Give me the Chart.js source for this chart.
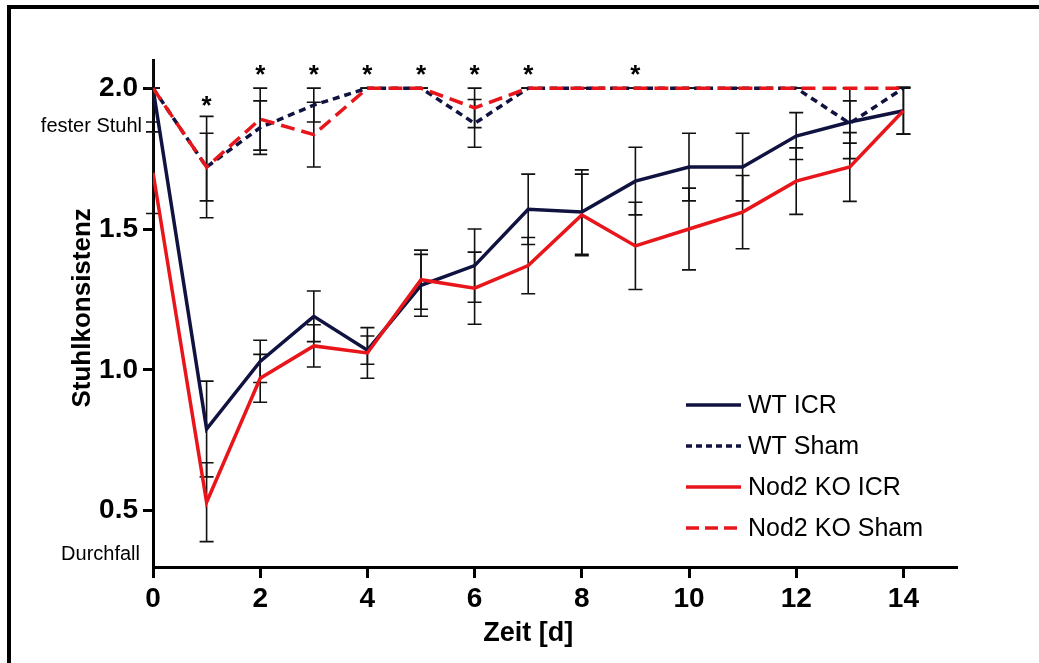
<!DOCTYPE html>
<html><head><meta charset="utf-8">
<script src="https://cdn.jsdelivr.net/npm/chart.js@4.4.1/dist/chart.umd.min.js"></script>
<style>
html,body{margin:0;padding:0;background:#fff;overflow:hidden;}
canvas{display:block;}
</style></head><body>
<canvas id="c" width="1039" height="663"></canvas>
<script>
// ---- data ----
const days = [0,1,2,3,4,5,6,7,8,9,10,11,12,13,14];
const wtIcr     = [2.00,0.79,1.03,1.19,1.07,1.30,1.37,1.57,1.56,1.67,1.72,1.72,1.83,1.88,1.92];
const wtIcrErr  = [0.12,0.17,0.075,0.09,0.05,0.11,0.13,0.125,0.15,0.12,0.12,0.12,0.083,0.075,0.083];
const wtSham    = [2.00,1.72,1.86,1.94,2.00,2.00,1.875,2.00,2.00,2.00,2.00,2.00,2.00,1.875,2.00];
const wtShamErr = [0,0.12,0.095,0.06,0,0,0.085,0,0,0,0,0,0,0.125,0];
const koIcr     = [1.70,0.53,0.97,1.085,1.06,1.32,1.29,1.37,1.55,1.44,1.50,1.56,1.67,1.72,1.92];
const koIcrErr  = [0.145,0.14,0.085,0.075,0.09,0.105,0.128,0.10,0.145,0.155,0.145,0.13,0.118,0.122,0.083];
const koSham    = [2.00,1.72,1.89,1.835,2.00,2.00,1.93,2.00,2.00,2.00,2.00,2.00,2.00,2.00,2.00];
const koShamErr = [0,0.18,0.11,0.115,0,0,0.07,0,0,0,0,0,0,0,0];
const seriesNames = ['WT ICR','WT Sham','Nod2 KO ICR','Nod2 KO Sham'];
const starDays = [1,2,3,4,5,6,7,9];
const starY    = [1.96,2.07,2.07,2.07,2.07,2.07,2.07,2.07];
const xTicks = [0,2,4,6,8,10,12,14];
const yTicks = [0.5,1.0,1.5,2.0];
const xTitle = 'Zeit [d]';
const yTitle = 'Stuhlkonsistenz';
const topLabel = 'fester Stuhl', topLabelY = 1.865;
const bottomLabel = 'Durchfall', bottomLabelY = 0.345;

const NAVY = '#10123f', RED = '#e8161b';
const FONT = '"Liberation Sans", Arial, sans-serif';
const pts = arr => days.map((d,i)=>({x:d,y:arr[i]}));

const errSets = [[wtIcr,wtIcrErr],[koIcr,koIcrErr],[wtSham,wtShamErr],[koSham,koShamErr]];

const extras = {
  id:'extras',
  beforeDraw(chart){
    const ctx = chart.ctx;
    ctx.save();
    ctx.fillStyle='#fff'; ctx.fillRect(0,0,chart.width,chart.height);
    ctx.fillStyle='#000';
    ctx.fillRect(7,5,chart.width-7,4);
    ctx.fillRect(7,5,4,chart.height-5);
    ctx.restore();
  },
  beforeDatasetsDraw(chart){
    const {ctx, chartArea:a, scales:{x,y}} = chart;
    ctx.save();
    ctx.beginPath(); ctx.rect(a.left-12, a.top, a.right-a.left+24, a.bottom-a.top); ctx.clip();
    ctx.strokeStyle='#111'; ctx.lineWidth=1.6;
    errSets.forEach(([vals,errs])=>{
      days.forEach((d,i)=>{
        const px=x.getPixelForValue(d);
        const hi=y.getPixelForValue(vals[i]+errs[i]);
        const lo=y.getPixelForValue(vals[i]-errs[i]);
        ctx.beginPath();
        ctx.moveTo(px,hi); ctx.lineTo(px,lo);
        ctx.moveTo(px-7,hi); ctx.lineTo(px+7,hi);
        ctx.moveTo(px-7,lo); ctx.lineTo(px+7,lo);
        ctx.stroke();
      });
    });
    ctx.restore();
  },
  afterDraw(chart){
    const {ctx, chartArea:a, scales:{x,y}} = chart;
    ctx.save();
    ctx.fillStyle='#000';
    // stars
    ctx.font='bold 26px '+FONT; ctx.textAlign='center'; ctx.textBaseline='alphabetic';
    starDays.forEach((d,i)=>{ ctx.fillText('*', x.getPixelForValue(d), y.getPixelForValue(starY[i])+15); });
    // side labels
    ctx.font='20px '+FONT; ctx.textAlign='right'; ctx.textBaseline='middle';
    ctx.fillText(topLabel, a.left-11, y.getPixelForValue(topLabelY));
    ctx.fillText(bottomLabel, a.left-13, y.getPixelForValue(bottomLabelY));
    // axis titles
    ctx.font='bold 27px '+FONT; ctx.textAlign='center'; ctx.textBaseline='middle';
    ctx.fillText(xTitle, x.getPixelForValue(7), 634);
    ctx.save();
    ctx.translate(83, y.getPixelForValue(1.22));
    ctx.rotate(-Math.PI/2);
    ctx.font='bold 26px '+FONT;
    ctx.fillText(yTitle, 0, 0);
    ctx.restore();
    // legend
    chart.data.datasets.forEach((ds,i)=>{
      const ly = 405 + i*41;
      ctx.save();
      ctx.strokeStyle=ds.borderColor; ctx.lineWidth=ds.borderWidth;
      ctx.setLineDash(ds.legendDash || []);
      ctx.beginPath(); ctx.moveTo(686,ly); ctx.lineTo(741,ly); ctx.stroke();
      ctx.restore();
      ctx.font='25px '+FONT; ctx.textAlign='left'; ctx.textBaseline='middle'; ctx.fillStyle='#000';
      ctx.fillText(ds.label, 748, ly+1);
    });
    ctx.restore();
  }
};

new Chart(document.getElementById('c'), {
  type:'line',
  data:{datasets:[
    {label:seriesNames[0], data:pts(wtIcr), borderColor:NAVY, borderWidth:3.5, order:3},
    {label:seriesNames[1], data:pts(wtSham), borderColor:NAVY, borderWidth:3.5, borderDash:[7,5], legendDash:[6,4], order:1},
    {label:seriesNames[2], data:pts(koIcr), borderColor:RED, borderWidth:3.5, order:2},
    {label:seriesNames[3], data:pts(koSham), borderColor:RED, borderWidth:3.5, borderDash:[14,7], legendDash:[13,6], order:0}
  ]},
  options:{
    responsive:false, animation:false, devicePixelRatio:1,
    layout:{padding:{left:0,top:60,right:82,bottom:0}},
    elements:{point:{radius:0}, line:{tension:0, fill:false}},
    plugins:{legend:{display:false}, tooltip:{enabled:false}},
    scales:{
      x:{type:'linear', min:0, max:15,
        afterBuildTicks(s){ s.ticks = xTicks.map(v=>({value:v})); },
        afterFit(s){ s.height = 96; },
        grid:{display:true, drawOnChartArea:false, drawTicks:true, tickLength:11, tickWidth:3, tickColor:'#000'},
        border:{display:true, width:3, color:'#000'},
        ticks:{color:'#000', font:{family:FONT, size:28, weight:'bold'}, padding:4, maxRotation:0}
      },
      y:{type:'linear', min:0.3, max:2.1,
        afterBuildTicks(s){ s.ticks = yTicks.map(v=>({value:v})); },
        afterFit(s){ s.width = 153; },
        grid:{display:true, drawOnChartArea:false, drawTicks:true, tickLength:10, tickWidth:3, tickColor:'#000'},
        border:{display:true, width:3, color:'#000'},
        ticks:{color:'#000', font:{family:FONT, size:28, weight:'bold'}, padding:5, callback:v=>Number(v).toFixed(1)}
      }
    }
  },
  plugins:[extras]
});
</script>
</body></html>
